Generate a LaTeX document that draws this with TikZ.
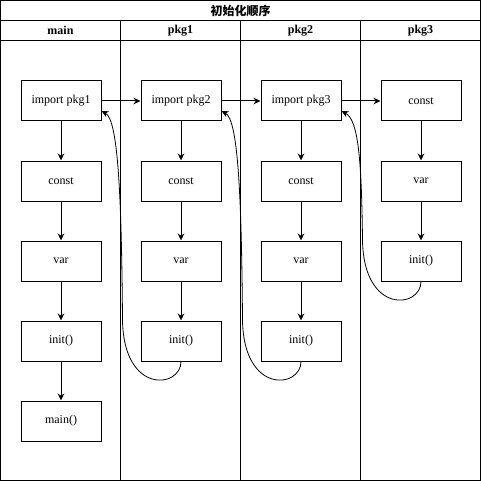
\documentclass[tikz,border=0pt]{standalone}
\usepackage{fontspec}
\setmainfont{Liberation Serif}
\newfontfamily\cjkfont{Noto Sans CJK SC}
\usetikzlibrary{arrows.meta}
\tikzset{
  box/.style={draw, line width=1pt, minimum width=80pt, minimum height=40pt, inner sep=0pt, font=\fontsize{12}{14}\selectfont, anchor=north west},
  hdr/.style={font=\bfseries\fontsize{12}{14}\selectfont},
  flow/.style={line width=1pt, -{Stealth[length=7pt,width=6.5pt]}},
  ret/.style={line width=0.8pt, -{Stealth[length=7pt,width=6.5pt]}},
}
\begin{document}
\begin{tikzpicture}[x=1pt,y=-1pt]
\useasboundingbox (0,0) rectangle (481,481);
% frame and lanes
\draw[line width=1pt] (0.5,0.5) rectangle (480.5,480.5);
\draw[line width=1pt] (0.5,20.5) -- (480.5,20.5);
\draw[line width=1pt] (0.5,40.5) -- (480.5,40.5);
\foreach \x in {120,240,360} \draw[line width=1pt] (\x.5,20.5) -- (\x.5,480.5);
\node[font=\cjkfont\bfseries\fontsize{12}{14}\selectfont] (title) at (240.5,10.5) {初始化顺序};
\node[hdr] (hmain) at (60.5,30.5) {main};
\node[hdr] (hp1) at (180.5,30.5) {pkg1};
\node[hdr] (hp2) at (300.5,30.5) {pkg2};
\node[hdr] (hp3) at (420.5,30.5) {pkg3};
% main lane
\node[box] (mimp) at (20.5,80.5) {import pkg1};
\node[box] (mconst) at (20.5,160.5) {const};
\node[box] (mvar) at (20.5,240.5) {var};
\node[box] (minit) at (20.5,320.5) {init()};
\node[box] (mmain) at (20.5,400.5) {main()};
% pkg1
\node[box] (aimp) at (140.5,80.5) {import pkg2};
\node[box] (aconst) at (140.5,160.5) {const};
\node[box] (avar) at (140.5,240.5) {var};
\node[box] (ainit) at (140.5,320.5) {init()};
% pkg2
\node[box] (bimp) at (260.5,80.5) {import pkg3};
\node[box] (bconst) at (260.5,160.5) {const};
\node[box] (bvar) at (260.5,240.5) {var};
\node[box] (binit) at (260.5,320.5) {init()};
% pkg3
\node[box] (cconst) at (380.5,80.5) {const};
\node[box] (cvar) at (380.5,160.5) {var};
\node[box] (cinit) at (380.5,240.5) {init()};
% vertical flows
\draw[flow] (mimp) -- (mconst);
\draw[flow] (mconst) -- (mvar);
\draw[flow] (mvar) -- (minit);
\draw[flow] (minit) -- (mmain);
\draw[flow] (aimp) -- (aconst);
\draw[flow] (aconst) -- (avar);
\draw[flow] (avar) -- (ainit);
\draw[flow] (bimp) -- (bconst);
\draw[flow] (bconst) -- (bvar);
\draw[flow] (bvar) -- (binit);
\draw[flow] (cconst) -- (cvar);
\draw[flow] (cvar) -- (cinit);
% horizontal flows
\draw[flow] (mimp) -- (aimp);
\draw[flow] (aimp) -- (bimp);
\draw[flow] (bimp) -- (cconst);
% return curves
\coordinate (mret) at ([yshift=-10pt]mimp.east);
\coordinate (aret) at ([yshift=-10pt]aimp.east);
\coordinate (bret) at ([yshift=-10pt]bimp.east);
\draw[ret] (ainit.south) .. controls +(0,27) and (123.5,395) .. (122.5,320) .. controls (121.5,200) and (118.5,120) .. (mret);
\draw[ret] (binit.south) .. controls +(0,27) and (243.5,395) .. (242.5,320) .. controls (241.5,200) and (238.5,120) .. (aret);
\draw[ret] (cinit.south) .. controls +(0,27) and (363.5,315) .. (362.5,240) .. controls (361.5,160) and (358.5,120) .. (bret);
\end{tikzpicture}
\end{document}
